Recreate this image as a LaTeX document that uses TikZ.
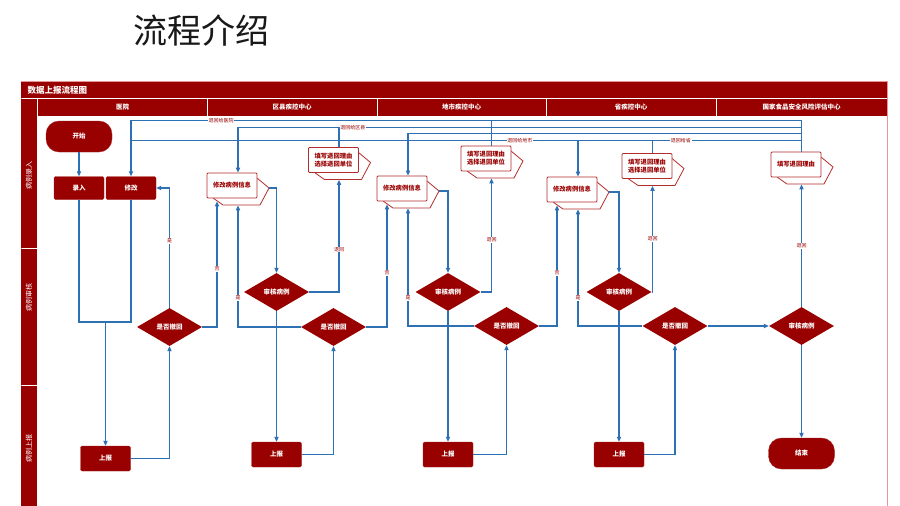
\documentclass[tikz,border=0pt]{standalone}
\usepackage{fontspec}
\setmainfont{Noto Sans CJK SC}
\usepackage{xcolor}
\usepackage{tikz}
\usetikzlibrary{positioning, arrows.meta, shapes.geometric, calc}
\definecolor{flred}{RGB}{153, 0, 0}
\definecolor{fledge}{RGB}{180, 45, 45}
\definecolor{flline}{RGB}{46, 112, 180}
\definecolor{flframe}{RGB}{228, 150, 150}
\tikzset{
  proc/.style={
    fill=flred, draw=flred!85!white, rounded corners=1.5pt,
    minimum width=50pt, minimum height=23pt, inner sep=1pt,
    text=white, font=\fontsize{6.5}{7}\selectfont\bfseries,
  },
  term/.style={proc, rounded corners=13pt, minimum width=66pt, minimum height=31pt},
  decide/.style={
    diamond, aspect=1.7, fill=flred, inner sep=0pt,
    minimum width=65pt, minimum height=38pt,
    text=white, font=\fontsize{6.5}{7}\selectfont\bfseries,
  },
  retbox/.style={
    draw=fledge, fill=white, line width=0.8pt, rounded corners=1pt,
    minimum width=50pt, minimum height=25pt, inner sep=1pt, align=center,
    text=flred, font=\fontsize{6.3}{8}\selectfont\bfseries,
  },
  tail/.style={draw=fledge, fill=white, line width=0.8pt},
  rel/.style={draw=flline, line width=1.2pt},
  flow/.style={rel, -{Triangle[length=5pt, width=4.2pt]}},
  lab/.style={font=\fontsize{5}{5}\selectfont, text=flred, fill=white, inner sep=0.7pt},
  hdr/.style={text=white, font=\fontsize{6.5}{7}\selectfont\bfseries},
  lane/.style={text=white, rotate=90, font=\fontsize{7}{7}\selectfont},
}
% box with the folded arrow behind it
\newcommand{\retnode}[3]{%
  \draw[tail] ($(#2)+(-19,12.5)$) -- ++(10,7) -- ++(37,0) -- ++(9,-17) -- ++(-12,-10);
  \node[retbox] (#1) at (#2) {#3};
}

\begin{document}
\begin{tikzpicture}[x=1pt, y=-1pt]
\useasboundingbox (0,0) rectangle (900,506);
\fill[white] (0,0) rectangle (900,506);

\node[font=\fontsize{34}{36}\selectfont, text=black!90] (head) at (201.5,30) {流程介绍};

% frame, title bar, column heads, lanes
\draw[flframe, line width=0.8pt] (21,81.5) rectangle (887,530);
\fill[flred] (21,81.5) rectangle (887,98);
\node[anchor=west, text=white, font=\fontsize{8.5}{9}\selectfont\bfseries] (ttl) at (24,90) {数据上报流程图};
\fill[flred] (38,98.8) rectangle (887,116);
\foreach \x in {207,377,546,716}
  \draw[white, line width=0.8pt] (\x,98.8) -- (\x,116);
\foreach \x/\t [count=\i] in {122.5/医院, 292/区县疾控中心, 461.5/地市疾控中心,
    631/省疾控中心, 801.5/国家食品安全风险评估中心}
  \node[hdr] (col\i) at (\x,107) {\t};
\fill[flred] (21,98.8) rectangle (37.2,248);
\fill[flred] (21,249) rectangle (37.2,385);
\fill[flred] (21,386) rectangle (37.2,530);
\node[lane] (lane1) at (29,175) {病例录入};
\node[lane] (lane2) at (29,297) {病例审核};
\node[lane] (lane3) at (29,448) {病例上报};

% hospital
\node[term] (start) at (79,136.5) {开始};
\node[proc] (luru) at (79,188) {录入};
\node[proc] (xg1) at (131,188) {修改};
\node[decide] (chk1) at (169.5,327) {是否撤回};
\node[proc, minimum height=25pt] (sb1) at (105.5,458.5) {上报};

% county
\retnode{mx2}{232,185.5}{修改病例信息}
\retnode{tx2}{333.5,160}{填写退回理由\\选择退回单位}
\node[decide] (shen2) at (276.5,292) {审核病例};
\node[decide] (chk2) at (333.5,327) {是否撤回};
\node[proc, minimum height=25pt] (sb2) at (276.5,454.5) {上报};

% city
\retnode{mx3}{402,188.5}{修改病例信息}
\retnode{tx3}{486,158.5}{填写退回理由\\选择退回单位}
\node[decide] (shen3) at (448,292) {审核病例};
\node[decide] (chk3) at (506.5,326) {是否撤回};
\node[proc, minimum height=25pt] (sb3) at (448,454.5) {上报};

% province
\retnode{mx4}{572,189.5}{修改病例信息}
\retnode{tx4}{647,166}{填写退回理由\\选择退回单位}
\node[decide] (shen4) at (619,292) {审核病例};
\node[decide] (chk4) at (675,326) {是否撤回};
\node[proc, minimum height=25pt] (sb4) at (619,454.5) {上报};

% national
\retnode{tx5}{796,164.5}{填写退回理由}
\node[decide] (shen5) at (801.5,326) {审核病例};
\node[term] (end) at (801.5,453.5) {结束};

% hospital flow
\coordinate (j1) at (105.5,322);
\draw[flow] (start) -- (luru);
\draw[rel] (luru.south) |- (j1) -| (xg1.south);
\draw[flow] (j1) -- (sb1.north);
\draw[flow] (sb1.east) -| (chk1.south);
\draw[flow] (chk1.north) |- node[lab, pos=0.28]{是} (xg1.east);
\draw[flow] (chk1.east) -| node[lab, pos=0.73]{否} ($(mx2.south)+(-15,3)$);

% county flow
\draw[flow] ($(mx2.east)+(12,2.5)$) -| (shen2.north);
\draw[flow] (shen2.east) -| node[lab, pos=0.69]{退回} ($(tx2.south)+(5.5,7)$);
\draw[flow] (shen2.south) -- (sb2.north);
\draw[flow] (sb2.east) -| (chk2.south);
\draw[flow] (chk2.west) -| node[lab, pos=0.62]{是} ($(mx2.south)+(6,7)$);
\draw[flow] (chk2.east) -| node[lab, pos=0.72]{否} ($(mx3.south)+(-15,3)$);

% city flow
\draw[flow] ($(mx3.east)+(12,2.5)$) -| (shen3.north);
\draw[flow] (shen3.east) -| node[lab, pos=0.73]{退回} ($(tx3.south)+(5.5,7)$);
\draw[flow] (shen3.south) -- (sb3.north);
\draw[flow] (sb3.east) -| (chk3.south);
\draw[flow] (chk3.west) -| node[lab, pos=0.62]{是} ($(mx3.south)+(6,7)$);
\draw[flow] (chk3.east) -| node[lab, pos=0.72]{否} ($(mx4.south)+(-15,3)$);

% province flow
\draw[flow] ($(mx4.east)+(12,2.5)$) -| (shen4.north);
\draw[flow] (shen4.east) -| node[lab, pos=0.75]{退回} ($(tx4.south)+(5.5,7)$);
\draw[flow] (shen4.south) -- (sb4.north);
\draw[flow] (sb4.east) -| (chk4.south);
\draw[flow] (chk4.west) -| node[lab, pos=0.62]{是} ($(mx4.south)+(6,7)$);
\draw[flow] (chk4.east) -- (shen5.west);

% national flow
\draw[flow] (shen5.north) -- node[lab, pos=0.5]{退回} ($(tx5.south)+(5.5,7)$);
\draw[flow] (shen5.south) -- (end.north);

% return lines
\coordinate (lv1) at (0,120.5);
\coordinate (lv2) at (0,127.5);
\coordinate (lv3) at (0,133.5);
\coordinate (lv4) at (0,140.7);
\coordinate (up2) at ($(tx2.north)+(5.5,0)$);
\coordinate (up3) at ($(tx3.north)+(5.5,0)$);
\coordinate (up4) at ($(tx4.north)+(5.5,0)$);
\coordinate (up5) at ($(tx5.north)+(5.5,0)$);
\coordinate (in2) at ($(mx2.north)+(6,0)$);
\coordinate (in3) at ($(mx3.north)+(6,0)$);
\coordinate (in4) at ($(mx4.north)+(6,0)$);

\draw[flow] (up3) |- node[lab, pos=0.875]{退回给医院} (xg1.north |- lv1) -- (xg1.north);
\draw[rel] (up5) |- (up3 |- lv1);
\draw[flow] (up2) |- (in2 |- lv2) -- (in2);
\draw[rel] (up5) |- node[lab, pos=1, anchor=west]{退回给区县} (up2 |- lv2);
\draw[flow] (up5) |- (in3 |- lv3) -- (in3);
\draw[rel] (up5) |- node[lab, pos=0.59]{退回给省} node[lab, pos=0.71]{退回给地市} (xg1.north |- lv4);
\draw[flow] (in4 |- lv4) -- (in4);
\draw[rel] (up4) -- (up4 |- lv4);

\end{tikzpicture}
\end{document}
